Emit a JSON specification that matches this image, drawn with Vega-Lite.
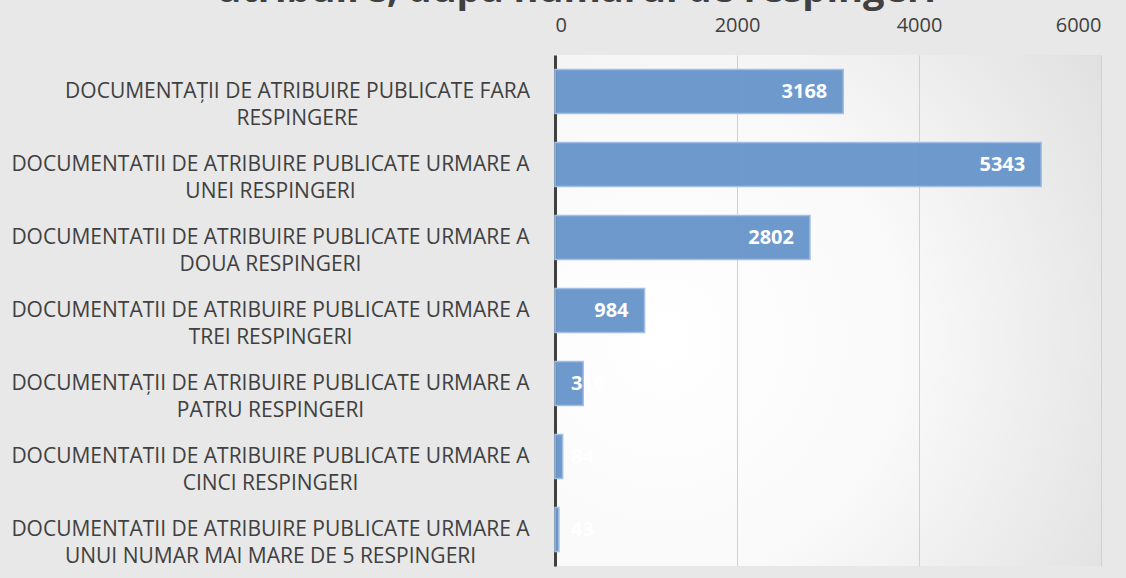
{
  "$schema": "https://vega.github.io/schema/vega-lite/v6.json",
  "width": 546,
  "height": 511,
  "autosize": {"type": "none"},
  "padding": {"left": 555, "top": 55, "right": 25, "bottom": 12},
  "background": "#E8E8E8",
  "config": {
    "view": {
      "stroke": null,
      "fill": {
        "gradient": "radial",
        "x1": 0.2, "y1": 0.55, "x2": 0.2, "y2": 0.55, "r1": 0, "r2": 1,
        "stops": [
          {"offset": 0, "color": "#FFFFFF"},
          {"offset": 0.45, "color": "#F9F9F9"},
          {"offset": 0.9, "color": "#E3E3E3"},
          {"offset": 1, "color": "#DEDEDE"}
        ]
      }
    }
  },
  "title": {
    "text": "atribuire, după numărul de respingeri",
    "font": "Open Sans",
    "fontSize": 38,
    "fontWeight": "bold",
    "color": "#404040",
    "anchor": "middle",
    "frame": "group",
    "baseline": "alphabetic",
    "offset": 0,
    "dx": -251,
    "dy": 25
  },
  "data": {
    "values": [
      {"category": "DOCUMENTAȚII DE ATRIBUIRE PUBLICATE FARA RESPINGERE", "value": 3168},
      {"category": "DOCUMENTATII DE ATRIBUIRE PUBLICATE URMARE A UNEI RESPINGERI", "value": 5343},
      {"category": "DOCUMENTATII DE ATRIBUIRE PUBLICATE URMARE A DOUA RESPINGERI", "value": 2802},
      {"category": "DOCUMENTATII DE ATRIBUIRE PUBLICATE URMARE A TREI RESPINGERI", "value": 984},
      {"category": "DOCUMENTAȚII DE ATRIBUIRE PUBLICATE URMARE A PATRU RESPINGERI", "value": 310},
      {"category": "DOCUMENTATII DE ATRIBUIRE PUBLICATE URMARE A CINCI RESPINGERI", "value": 84},
      {"category": "DOCUMENTATII DE ATRIBUIRE PUBLICATE URMARE A UNUI NUMAR MAI MARE DE 5 RESPINGERI", "value": 43}
    ]
  },
  "encoding": {
    "y": {
      "field": "category",
      "type": "nominal",
      "sort": null,
      "scale": {"paddingInner": 0.4, "paddingOuter": 0.2},
      "axis": {
        "title": null,
        "orient": "left",
        "ticks": false,
        "domain": true,
        "domainColor": "#404040",
        "domainWidth": 3,
        "labelFont": "Open Sans",
        "labelFontSize": 21,
        "labelColor": "#404040",
        "labelLimit": 0,
        "labelAlign": "center",
        "labelBaseline": "middle",
        "labelLineHeight": 27,
        "labelPadding": {"condition": {"test": "indexof(datum.label, 'FARA') >= 0", "value": 258}, "value": 285},
        "labelExpr": "split(replace(datum.label, regexp('(FARA|URMARE A) '), '$1|'), '|')"
      }
    }
  },
  "layer": [
    {
      "mark": {"type": "bar", "fill": "#6593C9", "fillOpacity": 0.95, "stroke": "#A2BEE2", "strokeWidth": 1.5},
      "encoding": {
        "x": {
          "field": "value",
          "type": "quantitative",
          "scale": {"domain": [0, 6000], "nice": false},
          "axis": {
            "title": null,
            "orient": "top",
            "values": [0, 2000, 4000, 6000],
            "format": "d",
            "grid": true,
            "gridColor": "#D0D0D0",
            "gridWidth": 1,
            "ticks": false,
            "domain": false,
            "labelFont": "Open Sans",
            "labelFontSize": 20,
            "labelColor": "#404040",
            "labelPadding": 20
          }
        }
      }
    },
    {
      "transform": [{"filter": "datum.value >= 500"}],
      "mark": {"type": "text", "align": "right", "baseline": "middle", "dx": -16, "font": "Open Sans", "fontSize": 20, "fontWeight": "bold", "color": "#FFFFFF"},
      "encoding": {
        "x": {"field": "value", "type": "quantitative"},
        "text": {"field": "value", "type": "quantitative"}
      }
    },
    {
      "transform": [{"filter": "datum.value < 500"}],
      "mark": {"type": "text", "align": "left", "baseline": "middle", "dx": 16, "font": "Open Sans", "fontSize": 20, "fontWeight": "bold", "color": "#FFFFFF"},
      "encoding": {
        "x": {"datum": 0, "type": "quantitative"},
        "text": {"field": "value", "type": "quantitative"}
      }
    }
  ]
}
